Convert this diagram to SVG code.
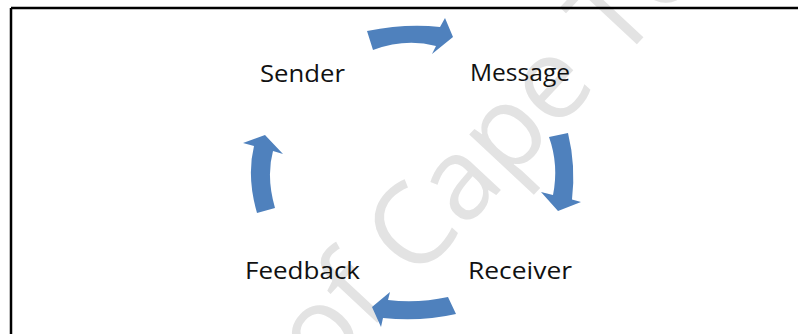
<svg xmlns="http://www.w3.org/2000/svg" width="798" height="334" viewBox="0 0 798 334">
<style>
.lbl{font-family:"Open Sans","Liberation Sans",sans-serif;font-size:24px;fill:#111}
.arr{fill:#4F81BD}
.wm{font-family:"Open Sans","Liberation Sans",sans-serif;font-size:114px;fill:#e3e3e3}
</style>
<rect x="0" y="0" width="798" height="334" fill="#fff"/>
<text class="wm" transform="translate(322,382) rotate(-47)">of Cape To</text>
<path d="M11,8 H798 M11,8 V334" fill="none" stroke="#000" stroke-width="2.5"/>
<g id="connectors">
<path class="arr" d="M367,31 Q406.5,23 440,27 L445,18 L453,37 L432,54 L436,46 Q405.5,38 373,50 Z"/>
<path class="arr" d="M549,137 L568,133 Q576,166 572,199.5 L581,202 L558,211 L541,192 L553,195 Q559,165 549,137 Z"/>
<path class="arr" d="M448,297 Q418,303.5 388,300 L390,292 L372,307 L381,327 L383,318 Q420.5,322 456,314 Z"/>
<path class="arr" d="M257,213 Q246.5,176.5 254,146 L243,143 L265,135 L283,154 L273,151 Q266,176.5 275,208 Z"/>
</g>
<g id="sender"><text class="lbl" x="260" y="82" textLength="85" lengthAdjust="spacingAndGlyphs">Sender</text></g>
<g id="message"><text class="lbl" x="470" y="81" textLength="100" lengthAdjust="spacingAndGlyphs">Message</text></g>
<g id="receiver"><text class="lbl" x="468" y="279" textLength="104" lengthAdjust="spacingAndGlyphs">Receiver</text></g>
<g id="feedback"><text class="lbl" x="245" y="279" textLength="115" lengthAdjust="spacingAndGlyphs">Feedback</text></g>
</svg>
